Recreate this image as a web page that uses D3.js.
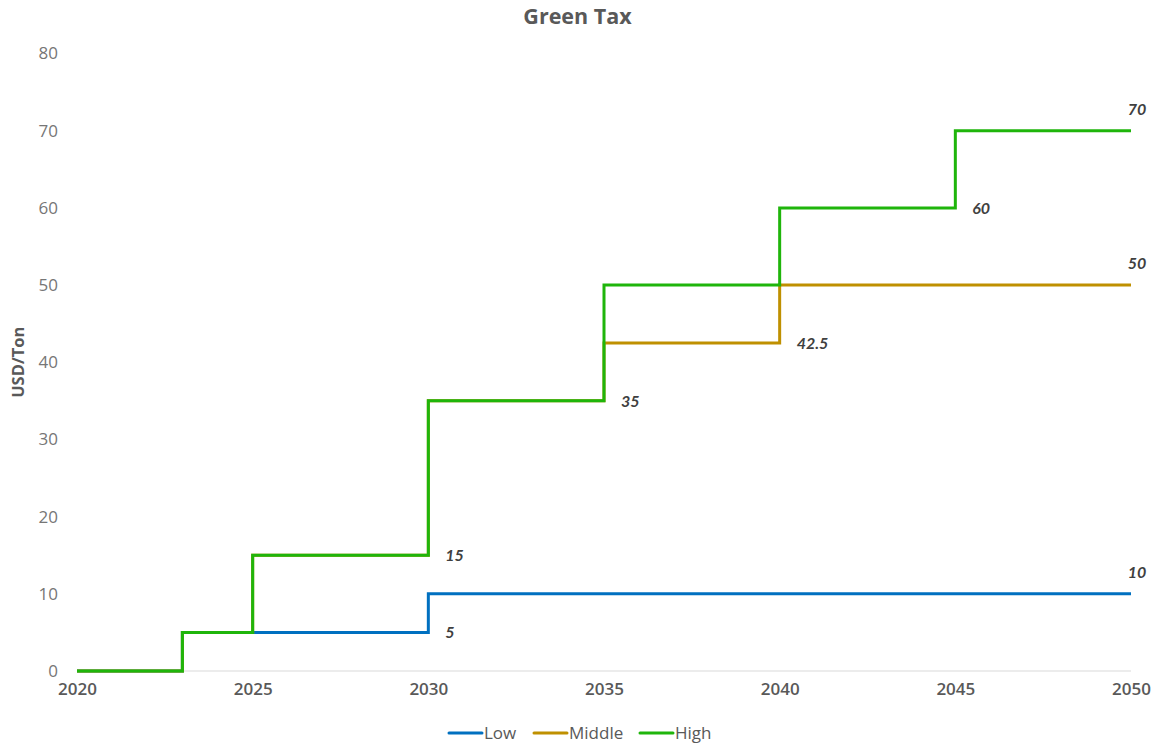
<!DOCTYPE html>
<html>
<head>
<meta charset="utf-8">
<script src="https://cdn.jsdelivr.net/npm/d3@7"></script>
<style>
  html, body { margin: 0; padding: 0; background: #ffffff; }
  svg { display: block; font-family: "Open Sans", Lato, sans-serif; }
</style>
</head>
<body>
<svg id="chart" width="1157" height="744"></svg>
<script>
// Green tax scenarios (USD/Ton). Each level holds from its year until the next year.
const seriesNames = ["Low", "Middle", "High"];
const lowYears    = [2020, 2023, 2030, 2050];
const lowValues   = [0, 5, 10, 10];
const middleYears  = [2020, 2023, 2025, 2030, 2035, 2040, 2050];
const middleValues = [0, 5, 15, 35, 42.5, 50, 50];
const highYears   = [2020, 2023, 2025, 2030, 2035, 2040, 2045, 2050];
const highValues  = [0, 5, 15, 35, 50, 60, 70, 70];

// Years at which the level that ends there is labelled
const lowLabelYears    = [2030, 2050];
const middleLabelYears = [2040, 2050];
const highLabelYears   = [2030, 2035, 2045, 2050];

const xTicks = [2020, 2025, 2030, 2035, 2040, 2045, 2050];
const yTicks = [0, 10, 20, 30, 40, 50, 60, 70, 80];
const colors = ["#0070C0", "#BF9000", "#1FB50B"];

const series = [
  { name: seriesNames[0], years: lowYears, values: lowValues, labels: lowLabelYears, color: colors[0] },
  { name: seriesNames[1], years: middleYears, values: middleValues, labels: middleLabelYears, color: colors[1] },
  { name: seriesNames[2], years: highYears, values: highValues, labels: highLabelYears, color: colors[2] }
];

const svg = d3.select("#chart");
const margin = { left: 77, right: 26, top: 53.5, bottom: 73 };
const W = 1157, H = 744;

const x = d3.scaleLinear().domain([2020, 2050]).range([margin.left, W - margin.right]);
const y = d3.scaleLinear().domain([0, 80]).range([H - margin.bottom, margin.top]);

// Title
svg.append("text")
  .attr("x", W / 2 - 1).attr("y", 24)
  .attr("text-anchor", "middle")
  .attr("font-size", 21.5).attr("font-weight", 700)
  .attr("fill", "#595959")
  .text("Green Tax");

// Y axis (labels only)
const yAxis = svg.append("g")
  .attr("transform", `translate(${margin.left - 19},0)`)
  .call(d3.axisLeft(y).tickValues(yTicks).tickSize(0).tickPadding(0));
yAxis.select(".domain").remove();
yAxis.selectAll("text")
  .attr("font-family", "'Open Sans', Lato, sans-serif")
  .attr("font-size", 17).attr("fill", "#767676");

// X axis baseline and labels
svg.append("line")
  .attr("x1", x(2020)).attr("x2", x(2050))
  .attr("y1", y(0)).attr("y2", y(0))
  .attr("stroke", "#d9d9d9").attr("stroke-width", 1.2);

const xAxis = svg.append("g")
  .attr("transform", `translate(0,${y(0) + 12})`)
  .call(d3.axisBottom(x).tickValues(xTicks).tickFormat(d3.format("d")).tickSize(0).tickPadding(0));
xAxis.select(".domain").remove();
xAxis.selectAll("text")
  .attr("font-family", "'Open Sans', Lato, sans-serif")
  .attr("font-size", 17).attr("font-weight", 600).attr("fill", "#595959");

// Y axis title
svg.append("text")
  .attr("transform", `translate(24,${(y(0) + y(80)) / 2}) rotate(-90)`)
  .attr("text-anchor", "middle")
  .attr("font-size", 16.5).attr("font-weight", 700)
  .attr("fill", "#595959")
  .text("USD/Ton");

// Step lines
const line = d3.line()
  .x(d => x(d[0]))
  .y(d => y(d[1]))
  .curve(d3.curveStepAfter);

series.forEach(s => {
  svg.append("path")
    .datum(s.years.map((yr, i) => [yr, s.values[i]]))
    .attr("fill", "none")
    .attr("stroke", s.color)
    .attr("stroke-width", 3)
    .attr("stroke-linejoin", "miter")
    .attr("d", line);
});

// Value labels: the level that runs up to each labelled year
function levelBefore(s, yr) {
  let v = s.values[0];
  for (let i = 0; i < s.years.length; i++) {
    if (s.years[i] < yr) v = s.values[i];
  }
  return v;
}
const fmt = v => (Number.isInteger(v) ? d3.format("d")(v) : String(v));

series.forEach(s => {
  s.labels.forEach(yr => {
    const v = levelBefore(s, yr);
    const atEnd = yr === 2050;
    svg.append("text")
      .attr("x", atEnd ? x(yr) + 6 : x(yr) + 17)
      .attr("y", atEnd ? y(v) - 16 : y(v) + 6)
      .attr("text-anchor", atEnd ? "middle" : "start")
      .attr("font-family", "Lato, 'Open Sans', sans-serif")
      .attr("font-size", 16).attr("font-weight", 700).attr("font-style", "italic")
      .attr("fill", "#404040")
      .text(fmt(v));
  });
});

// Legend
const legendY = 733;
const legendItems = [
  { name: seriesNames[0], color: colors[0], x: 449 },
  { name: seriesNames[1], color: colors[1], x: 534 },
  { name: seriesNames[2], color: colors[2], x: 640 }
];
legendItems.forEach(it => {
  svg.append("line")
    .attr("x1", it.x).attr("x2", it.x + 33)
    .attr("y1", legendY).attr("y2", legendY)
    .attr("stroke", it.color).attr("stroke-width", 3)
    .attr("stroke-linecap", "round");
  svg.append("text")
    .attr("x", it.x + 35).attr("y", legendY + 6)
    .attr("font-size", 17).attr("fill", "#595959")
    .text(it.name);
});
</script>
</body>
</html>
